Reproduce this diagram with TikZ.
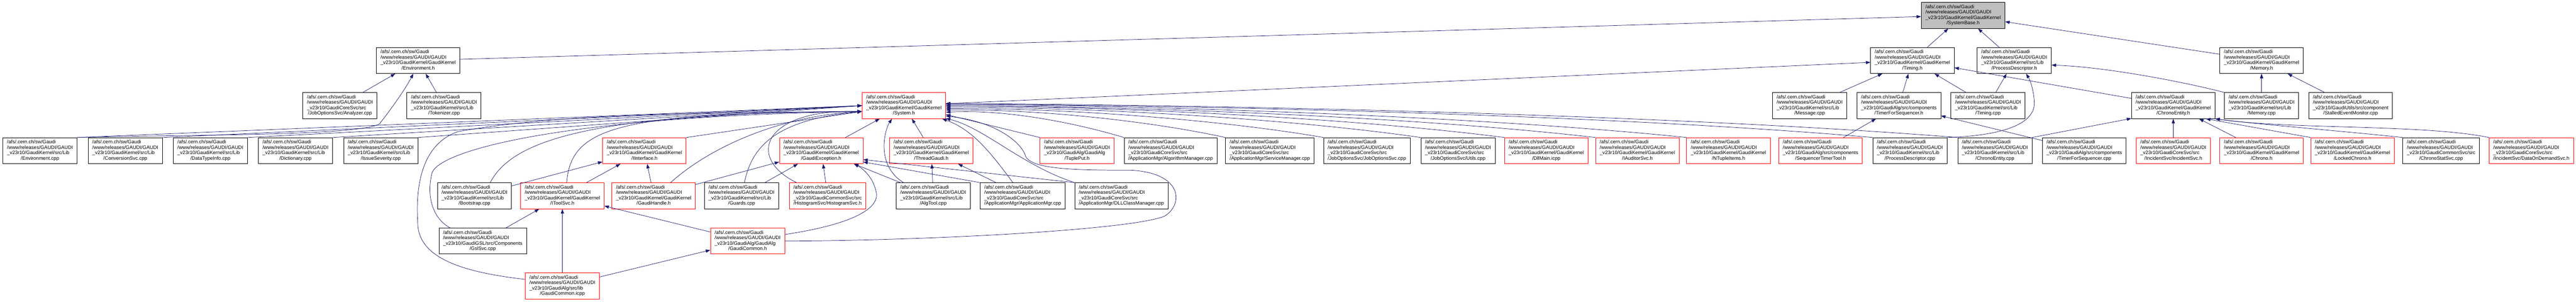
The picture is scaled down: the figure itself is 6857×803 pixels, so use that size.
\documentclass[tikz,border=0pt]{standalone}
\usepackage{fontspec}
\setmainfont{Liberation Sans}
\usetikzlibrary{arrows.meta}
\definecolor{midnight}{HTML}{191970}
\definecolor{rootgray}{HTML}{BFBFBF}
\newcommand{\gpath}[2]{\begin{tabular}{@{}l@{}}/afs/.cern.ch/sw/Gaudi\\/www/releases/GAUDI/GAUDI\\#1\\\multicolumn{1}{@{}c@{}}{#2}\end{tabular}}
\newcommand{\dirK}{\_v23r10/GaudiKernel/GaudiKernel}
\newcommand{\dirL}{\_v23r10/GaudiKernel/src/Lib}
\newcommand{\dirC}{\_v23r10/GaudiCoreSvc/src}
\newcommand{\dirA}{\_v23r10/GaudiAlg/GaudiAlg}
\newcommand{\dirAC}{\_v23r10/GaudiAlg/src/components}
\newcommand{\dirCS}{\_v23r10/GaudiCommonSvc/src}
\newcommand{\dirGSL}{\_v23r10/GaudiGSL/src/Components}
\newcommand{\dirAlib}{\_v23r10/GaudiAlg/src/lib}
\newcommand{\dirU}{\_v23r10/GaudiUtils/src/component}
\begin{document}
\begin{tikzpicture}[x=1pt,y=-1pt]
    \tikzstyle{filebox}=[draw=black, line width=1.3pt, fill=white, inner xsep=11pt, inner ysep=5.5pt, font=\fontsize{13.1}{14.5}\selectfont]
    \tikzstyle{redbox}=[filebox, draw=red]
    \tikzstyle{rootbox}=[filebox, fill=rootgray]
    \tikzstyle{dep}=[draw=midnight, line width=1pt, -{Triangle[length=12pt,width=8.5pt]}]
    \useasboundingbox (0,0) rectangle (6857,803);
    \node[rootbox] (sysbase) at (5225.5,41) {\gpath{\dirK}{/SystemBase.h}};
    \node[filebox] (envh) at (1113,161) {\gpath{\dirK}{/Environment.h}};
    \node[filebox] (timingh) at (5090.5,161) {\gpath{\dirK}{/Timing.h}};
    \node[filebox] (procdesch) at (5361.5,161) {\gpath{\dirL}{/ProcessDescriptor.h}};
    \node[filebox] (memoryh) at (6020,161) {\gpath{\dirK}{/Memory.h}};
    \node[filebox] (analyzer) at (905,281) {\gpath{\dirC}{/JobOptionsSvc/Analyzer.cpp}};
    \node[filebox] (tokenizer) at (1182,281) {\gpath{\dirL}{/Tokenizer.cpp}};
    \node[redbox] (systemh) at (2406,281) {\gpath{\dirK}{/System.h}};
    \node[filebox] (message) at (4817,281) {\gpath{\dirL}{/Message.cpp}};
    \node[filebox] (tfsh) at (5054.5,281) {\gpath{\dirAC}{/TimerForSequencer.h}};
    \node[filebox] (timingcpp) at (5292,281) {\gpath{\dirL}{/Timing.cpp}};
    \node[filebox] (chronoentityh) at (5785,281) {\gpath{\dirK}{/ChronoEntity.h}};
    \node[filebox] (memorycpp) at (6020,281) {\gpath{\dirL}{/Memory.cpp}};
    \node[filebox] (stalled) at (6257,281) {\gpath{\dirU}{/StalledEventMonitor.cpp}};
    \node[filebox] (envcpp) at (106.5,401) {\gpath{\dirL}{/Environment.cpp}};
    \node[filebox] (convsvc) at (333.5,401) {\gpath{\dirL}{/ConversionSvc.cpp}};
    \node[filebox] (datatype) at (560,401) {\gpath{\dirL}{/DataTypeInfo.cpp}};
    \node[filebox] (dictionary) at (786.5,401) {\gpath{\dirL}{/Dictionary.cpp}};
    \node[filebox] (severity) at (1013.5,401) {\gpath{\dirL}{/IssueSeverity.cpp}};
    \node[redbox] (iinterface) at (1715.5,401) {\gpath{\dirK}{/IInterface.h}};
    \node[redbox] (gaudiexc) at (2186,401) {\gpath{\dirK}{/GaudiException.h}};
    \node[redbox] (threadgaudi) at (2479,401) {\gpath{\dirK}{/ThreadGaudi.h}};
    \node[redbox] (tupleput) at (2867,401) {\gpath{\dirA}{/TuplePut.h}};
    \node[filebox] (algmgr) at (3116,401) {\gpath{\dirC}{/ApplicationMgr/AlgorithmManager.cpp}};
    \node[filebox] (svcmgr) at (3380,401) {\gpath{\dirC}{/ApplicationMgr/ServiceManager.cpp}};
    \node[filebox] (josvc) at (3638.5,401) {\gpath{\dirC}{/JobOptionsSvc/JobOptionsSvc.cpp}};
    \node[filebox] (utils) at (3881,401) {\gpath{\dirC}{/JobOptionsSvc/Utils.cpp}};
    \node[redbox] (dllmain) at (4116,401) {\gpath{\dirK}{/DllMain.icpp}};
    \node[redbox] (iauditor) at (4358.5,401) {\gpath{\dirK}{/IAuditorSvc.h}};
    \node[redbox] (ntuple) at (4601,401) {\gpath{\dirK}{/NTupleItems.h}};
    \node[redbox] (seqtimer) at (4846,401) {\gpath{\dirAC}{/SequencerTimerTool.h}};
    \node[filebox] (procdesccpp) at (5084,401) {\gpath{\dirL}{/ProcessDescriptor.cpp}};
    \node[filebox] (chronoentitycpp) at (5310,401) {\gpath{\dirL}{/ChronoEntity.cpp}};
    \node[filebox] (tfscpp) at (5548,401) {\gpath{\dirAC}{/TimerForSequencer.cpp}};
    \node[redbox] (incidentsvc) at (5785,401) {\gpath{\dirC}{/IncidentSvc/IncidentSvc.h}};
    \node[redbox] (chronoh) at (6020,401) {\gpath{\dirK}{/Chrono.h}};
    \node[redbox] (lockedchrono) at (6262,401) {\gpath{\dirK}{/LockedChrono.h}};
    \node[filebox] (chronostat) at (6498,401) {\gpath{\dirCS}{/ChronoStatSvc.cpp}};
    \node[redbox] (dataondemand) at (6738,401) {\gpath{\dirC}{/IncidentSvc/DataOnDemandSvc.h}};
    \node[filebox] (bootstrap) at (1263,521) {\gpath{\dirL}{/Bootstrap.cpp}};
    \node[redbox] (itoolsvc) at (1497,521) {\gpath{\dirK}{/IToolSvc.h}};
    \node[redbox] (gaudihandle) at (1740,521) {\gpath{\dirK}{/GaudiHandle.h}};
    \node[filebox] (guards) at (1974,521) {\gpath{\dirL}{/Guards.cpp}};
    \node[redbox] (histosvc) at (2203,521) {\gpath{\dirCS}{/HistogramSvc/HistogramSvc.h}};
    \node[filebox] (algtool) at (2484,521) {\gpath{\dirL}{/AlgTool.cpp}};
    \node[filebox] (appmgr) at (2722.5,521) {\gpath{\dirC}{/ApplicationMgr/ApplicationMgr.cpp}};
    \node[filebox] (dllclassmgr) at (2985,521) {\gpath{\dirC}{/ApplicationMgr/DLLClassManager.cpp}};
    \node[filebox] (gslsvc) at (1285,641.5) {\gpath{\dirGSL}{/GslSvc.cpp}};
    \node[redbox] (gaudicommonh) at (1990,641.5) {\gpath{\dirA}{/GaudiCommon.h}};
    \node[redbox] (gaudicommonicpp) at (1497,761) {\gpath{\dirAlib}{/GaudiCommon.icpp}};
    \draw[dep] (envh) -- (sysbase);
    \draw[dep] (timingh) -- (sysbase);
    \draw[dep] (procdesch) -- (sysbase);
    \draw[dep] (memoryh) -- (sysbase);
    \draw[dep] (analyzer) -- (envh);
    \draw[dep] (tokenizer) -- (envh);
    \draw[dep] (envcpp.north east) .. controls (500,358) and (950,362) .. (1010,330) .. controls (1045,285) and (1080,235) .. (envh.250);
    \draw[dep] (systemh) -- (timingh);
    \draw[dep] (message) -- (timingh);
    \draw[dep] (tfsh) -- (timingh);
    \draw[dep] (timingcpp) -- (timingh);
    \draw[dep] (chronoentityh) -- (timingh);
    \draw[dep] (timingcpp) -- (procdesch);
    \draw[dep] (procdesccpp.north east) .. controls (5300,362) and (5420,340) .. (5415,270) .. controls (5413,240) and (5405,215) .. (procdesch.-48);
    \draw[dep] (memorycpp.north west) .. controls (5800,215) and (5600,178) .. (procdesch.-7);
    \draw[dep] (memorycpp) -- (memoryh);
    \draw[dep] (stalled) -- (memoryh);
    \draw[dep] (seqtimer) -- (tfsh);
    \draw[dep] (tfscpp) -- (tfsh);
    \draw[dep] (chronoentitycpp.north east) -- (chronoentityh.197);
    \draw[dep] (incidentsvc) -- (chronoentityh);
    \draw[dep] (chronoh) -- (chronoentityh);
    \draw[dep] (lockedchrono.north west) -- (chronoentityh.-22);
    \draw[dep] (chronostat.north west) .. controls (6250,350) and (6000,330) .. (chronoentityh.south east);
    \draw[dep] (dataondemand.north west) .. controls (6450,330) and (6100,345) .. (chronoentityh.south east);
    \draw[dep] (envcpp.north east) -- (systemh.west);
    \draw[dep] (convsvc.north east) -- (systemh.west);
    \draw[dep] (datatype.north east) -- (systemh.west);
    \draw[dep] (dictionary.north east) -- (systemh.west);
    \draw[dep] (severity.north east) -- (systemh.west);
    \draw[dep] (iinterface.north east) -- (systemh.188);
    \draw[dep] (bootstrap.40) .. controls (1360,380) and (1550,300) .. (systemh.188);
    \draw[dep] (itoolsvc.72) .. controls (1520,340) and (1640,300) .. (systemh.188);
    \draw[dep] (gaudihandle.38) .. controls (1880,400) and (2060,310) .. (systemh.188);
    \draw[dep] (guards.78) .. controls (2000,400) and (2050,320) .. (systemh.188);
    \draw[dep] (histosvc.157) .. controls (1985,420) and (2030,290) .. (systemh.188);
    \draw[dep] (gslsvc.158) .. controls (1150,580) and (1135,520) .. (1150,460) .. controls (1170,400) and (1500,310) .. (systemh.188);
    \draw[dep] (gaudicommonicpp.170) .. controls (1240,725) and (1110,690) .. (1112,590) .. controls (1105,480) and (1130,380) .. (1220,350) .. controls (1500,300) and (1900,300) .. (systemh.188);
    \draw[dep] (gaudiexc) -- (systemh);
    \draw[dep] (threadgaudi) -- (systemh);
    \draw[dep] (algtool.156) .. controls (2330,440) and (2355,345) .. (systemh.228);
    \draw[dep] (appmgr.127) .. controls (2640,410) and (2590,345) .. (systemh.-19);
    \draw[dep] (dllclassmgr.north west) .. controls (2720,440) and (2620,340) .. (systemh.-17);
    \draw[dep] (gaudicommonh.east) .. controls (2500,640) and (3020,610) .. (3100,575) .. controls (3150,545) and (3150,460) .. (3010,453) .. controls (2850,453) and (2735,450) .. (2728,410) .. controls (2710,370) and (2640,322) .. (systemh.-14);
    \draw[dep] (tupleput.north west) -- (systemh.-12);
    \draw[dep] (algmgr.north west) .. controls (2873,330) and (2682,290) .. (systemh.-9);
    \draw[dep] (svcmgr.north west) .. controls (3076,325) and (2777,290) .. (systemh.-6);
    \draw[dep] (josvc.north west) .. controls (3270,322) and (2867,288) .. (systemh.-4);
    \draw[dep] (utils.north west) .. controls (3463,320) and (2958,286) .. (systemh.-2);
    \draw[dep] (dllmain.north west) .. controls (3633,318) and (3037,285) .. (systemh.east);
    \draw[dep] (iauditor.north west) .. controls (3815,316) and (3122,284) .. (systemh.east);
    \draw[dep] (ntuple.north west) .. controls (3997,315) and (3207,283) .. (systemh.2);
    \draw[dep] (procdesccpp.north west) .. controls (4366,312) and (3379,282) .. (systemh.2);
    \draw[dep] (chronoentitycpp.north west) .. controls (4534,312) and (3457,281) .. (systemh.3);
    \draw[dep] (bootstrap) -- (iinterface);
    \draw[dep] (itoolsvc) -- (iinterface);
    \draw[dep] (gaudihandle) -- (iinterface);
    \draw[dep] (gaudihandle) -- (gaudiexc);
    \draw[dep] (guards) -- (gaudiexc);
    \draw[dep] (histosvc) -- (gaudiexc);
    \draw[dep] (algtool) -- (gaudiexc);
    \draw[dep] (appmgr.north west) -- (gaudiexc.-15);
    \draw[dep] (dllclassmgr.north west) -- (gaudiexc.-12);
    \draw[dep] (gaudicommonh.10) .. controls (2250,600) and (2345,560) .. (2332,510) .. controls (2325,475) and (2300,450) .. (gaudiexc.-22);
    \draw[dep] (algtool) -- (threadgaudi);
    \draw[dep] (appmgr) -- (threadgaudi);
    \draw[dep] (gslsvc) -- (itoolsvc);
    \draw[dep] (gaudicommonicpp) -- (itoolsvc);
    \draw[dep] (gaudicommonicpp) -- (gaudicommonh);
    \draw[dep] (gaudicommonh) -- (itoolsvc);
\end{tikzpicture}
\end{document}
